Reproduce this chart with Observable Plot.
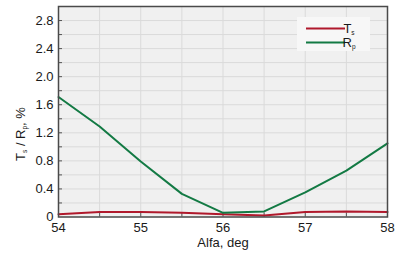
<!DOCTYPE html>
<html>
<head>
<meta charset="utf-8">
<script src="https://cdn.jsdelivr.net/npm/d3@7"></script>
<script src="https://cdn.jsdelivr.net/npm/@observablehq/plot@0.6"></script>
<style>
  html, body { margin: 0; padding: 0; background: #fff; }
  #chart svg { display: block; }
</style>
</head>
<body>
<div id="chart"></div>
<script>
// Data
const alfa = [54, 54.5, 55, 55.5, 56, 56.5, 57, 57.5, 58];
const Rp = [1.71, 1.29, 0.79, 0.33, 0.06, 0.08, 0.35, 0.66, 1.05];
const Ts = [0.04, 0.07, 0.07, 0.06, 0.04, 0.02, 0.07, 0.08, 0.07];
const seriesNames = ["Ts", "Rp"];
const seriesColors = ["#b0192c", "#137a44"];
const xTickLabels = [54, 55, 56, 57, 58];
const yTickLabels = [0, 0.4, 0.8, 1.2, 1.6, 2.0, 2.4, 2.8];
const xGrid = [54.5, 55, 55.5, 56, 56.5, 57, 57.5];
const yGrid = [0.2, 0.4, 0.6, 0.8, 1.0, 1.2, 1.4, 1.6, 1.8, 2.0, 2.2, 2.4, 2.6, 2.8];

const rows = [];
alfa.forEach((a, i) => {
  rows.push({alfa: a, v: Ts[i], s: "Ts"});
  rows.push({alfa: a, v: Rp[i], s: "Rp"});
});

const W = 396, H = 255;
const mL = 58, mR = 9, mT = 6, mB = 38.5;
const xTickLen = 4 / ((W - mL - mR) / 4);   // 4px in data units
const yTickLen = 4 / ((H - mT - mB) / 3);
const ff = '"Liberation Sans", Arial, sans-serif';

const plot = Plot.plot({
  width: W, height: H,
  marginLeft: mL, marginRight: mR, marginTop: mT, marginBottom: mB,
  style: {fontSize: "13px", fontFamily: ff, color: "#1a1a1a", background: "#fff"},
  x: {domain: [54, 58]},
  y: {domain: [0, 3.0]},
  color: {domain: seriesNames, range: seriesColors},
  marks: [
    Plot.frame({fill: "#f0f0f0", stroke: null}),
    Plot.ruleX(xGrid, {stroke: "#dadada", strokeWidth: 1}),
    Plot.ruleY(yGrid, {stroke: "#dadada", strokeWidth: 1}),
    // inward ticks
    Plot.ruleY(yGrid, {x1: 54, x2: 54 + xTickLen, stroke: "#555"}),
    Plot.ruleX(xGrid, {y1: 0, y2: yTickLen, stroke: "#555"}),
    Plot.axisX(xTickLabels, {tickSize: 0, tickPadding: 6, label: null, fontSize: 13, tickFormat: d => d}),
    Plot.axisY(yTickLabels, {tickSize: 0, tickPadding: 5, label: null, fontSize: 13, tickFormat: d => d === 0 ? "0" : d.toFixed(1)}),
    Plot.line(rows, {x: "alfa", y: "v", z: "s", stroke: "s", strokeWidth: 2}),
    Plot.frame({stroke: "#4a4a4a", strokeWidth: 1.5})
  ]
});
document.getElementById("chart").appendChild(plot);

const svg = d3.select(plot);

function sub(sel, parts) {
  parts.forEach(([t, isSub], k) => {
    const ts = sel.append("tspan").text(t);
    if (isSub) ts.attr("font-size", "6.5px").attr("dy", "2");
    else if (k > 0) ts.attr("dy", "-2");
  });
}

// X label
svg.append("text").attr("x", 223).attr("y", 247).attr("text-anchor", "middle")
  .attr("font-family", ff).attr("font-size", "13px").attr("fill", "#1a1a1a").text("Alfa, deg");

// Y label (with subscripts)
const yl = svg.append("text").attr("transform", "translate(25,134) rotate(-90)")
  .attr("text-anchor", "middle").attr("font-family", ff).attr("font-size", "13px").attr("fill", "#1a1a1a");
sub(yl, [["T", false], ["s", true], [" / R", false], ["p", true], [", %", false]]);

// Legend
const lg = svg.append("g");
lg.append("rect").attr("x", 297).attr("y", 17).attr("width", 73).attr("height", 34).attr("fill", "#f7f7f7");
const legendNames = [[["T", false], ["s", true]], [["R", false], ["p", true]]];
seriesColors.forEach((c, i) => {
  const y = 28.5 + i * 14;
  lg.append("line").attr("x1", 306).attr("x2", 345).attr("y1", y).attr("y2", y)
    .attr("stroke", c).attr("stroke-width", 2);
  const t = lg.append("text").attr("x", 349).attr("y", y + 4.5).attr("font-family", ff)
    .attr("font-size", "13px").attr("fill", "#1a1a1a");
  sub(t, legendNames[i]);
});
</script>
</body>
</html>
